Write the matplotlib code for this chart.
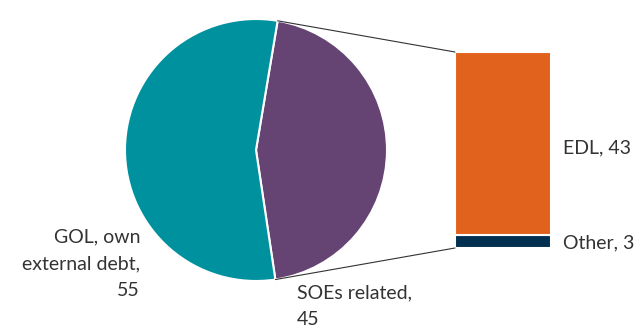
import matplotlib
matplotlib.use("Agg")
import matplotlib.pyplot as plt
from matplotlib.patches import ConnectionPatch
import numpy as np

plt.rcParams['font.family'] = ['Lato', 'DejaVu Sans']

pie_labels = ["SOEs related", "GOL, own external debt"]
pie_values = [45, 55]
bar_labels = ["Other", "EDL"]
bar_values = [3, 43]

pie_colors = ["#654372", "#00919F"]
bar_colors = ["#002F4F", "#E1621C"]
text_color = "#333333"

W, H = 635, 327
fig = plt.figure(figsize=(W / 100, H / 100), dpi=100)

# pie axes: centre (256,150) px, radius 131 px
cx, cy, r = 256, 150, 131
ax1 = fig.add_axes([(cx - r) / W, (H - cy - r) / H, 2 * r / W, 2 * r / H])
span = 360 * pie_values[0] / sum(pie_values)
wedges, _ = ax1.pie(pie_values, colors=pie_colors, startangle=-span / 2 - 0.5,
                    radius=1, wedgeprops=dict(edgecolor="white", linewidth=1.5))
ax1.set_xlim(-1, 1)
ax1.set_ylim(-1, 1)
ax1.set_aspect("equal")
ax1.axis("off")

# bar axes
bx0, bx1, by0, by1 = 455, 551, 52, 248
ax2 = fig.add_axes([bx0 / W, (H - by1) / H, (bx1 - bx0) / W, (by1 - by0) / H])
bottom = 0
for v, c in zip(bar_values, bar_colors):
    ax2.bar(0, v, width=1, bottom=bottom, color=c, edgecolor="white", linewidth=1.5)
    bottom += v
ax2.set_xlim(-0.5, 0.5)
ax2.set_ylim(0, sum(bar_values))
ax2.axis("off")

# connection lines
w = wedges[0]
th1, th2 = np.deg2rad(w.theta1), np.deg2rad(w.theta2)
for th, yb in [(th2, sum(bar_values)), (th1, 0)]:
    con = ConnectionPatch(xyA=(-0.5, yb), coordsA=ax2.transData,
                          xyB=(np.cos(th), np.sin(th)), coordsB=ax1.transData,
                          color="#333333", linewidth=0.8)
    fig.add_artist(con)

fs = 14
ls = 1.7
fig.text(140 / W, 1 - 264 / H, "GOL, own\nexternal debt,\n%d" % pie_values[1],
         ha="right", va="center", multialignment="right", fontsize=fs,
         color=text_color, linespacing=ls)
fig.text(297 / W, 1 - 306 / H, "%s,\n%d" % (pie_labels[0], pie_values[0]),
         ha="left", va="center", multialignment="left", fontsize=fs,
         color=text_color, linespacing=ls)
fig.text(563 / W, 1 - 148 / H, "%s, %d" % (bar_labels[1], bar_values[1]),
         ha="left", va="center", fontsize=fs, color=text_color)
fig.text(563 / W, 1 - 243 / H, "%s, %d" % (bar_labels[0], bar_values[0]),
         ha="left", va="center", fontsize=fs, color=text_color)

fig.savefig("out.png", dpi=100)
